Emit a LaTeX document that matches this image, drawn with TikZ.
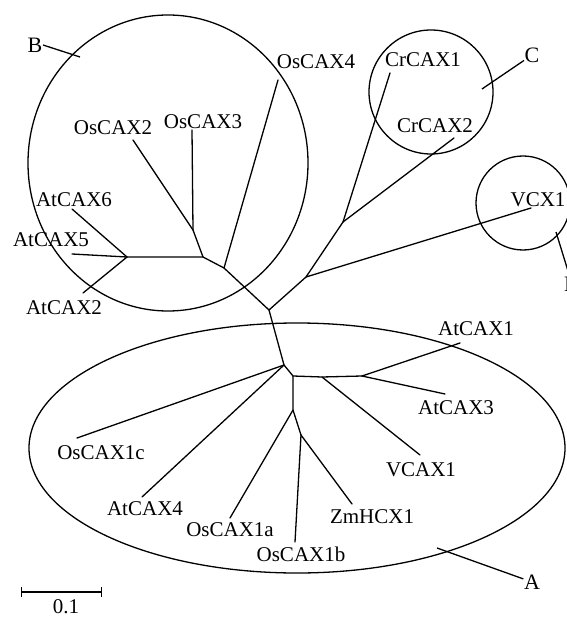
\documentclass[tikz,border=0pt]{standalone}
\usepackage{fontspec}
\setmainfont{Liberation Serif}
\usepackage{tikz}
\usetikzlibrary{positioning}
\tikzset{
  %% -- tree branch --
  TR/branch/.style={draw, line width=1.3pt, line cap=round, line join=round},
  %% -- leaf name --
  TR/leaf/.style={font=\fontsize{21}{24}\selectfont, inner sep=0pt},
  %% -- clade outline (ellipse / circle) --
  TR/clade/.style={draw, line width=1.3pt},
  %% -- clade letter --
  TR/tag/.style={font=\fontsize{22}{24}\selectfont, inner sep=0.5pt},
  %% -- pointer from clade letter into its outline --
  TR/ptr/.style={draw, line width=1.3pt},
  %% -- scale bar --
  TR/bar/.style={draw, line width=1.3pt, |-|},
}

\begin{document}
\begin{tikzpicture}[x=1pt, y=-1pt]
%% ── Frame (pixel grid of the figure, y downwards) ───────────
\useasboundingbox (0,0) rectangle (566,617);

%% ── Inner nodes of the tree ─────────────────────────────────
\coordinate (nRoot) at (269,310);
\coordinate (nB)    at (203,257);
\coordinate (nOs)   at (193,230);
\coordinate (nAt)   at (127,257);
\coordinate (nB4)   at (224,268);
\coordinate (nCV)   at (306,277);
\coordinate (nCr)   at (343,222);
\coordinate (nA1)   at (284,365);
\coordinate (nA2)   at (293,376);
\coordinate (nA3)   at (322,377);
\coordinate (nA4)   at (362,376);
\coordinate (nA5)   at (293,410);
\coordinate (nA6)   at (301,435);

%% ── Leaf tips ───────────────────────────────────────────────
\coordinate (tOsCAX2)  at (133,140);
\coordinate (tOsCAX3)  at (192,130);
\coordinate (tOsCAX4)  at (278,80);
\coordinate (tAtCAX6)  at (72,209);
\coordinate (tAtCAX5)  at (72,254);
\coordinate (tAtCAX2)  at (83,293);
\coordinate (tCrCAX1)  at (390,73);
\coordinate (tCrCAX2)  at (454,138);
\coordinate (tVCX1)    at (531,208);
\coordinate (tAtCAX1)  at (460,343);
\coordinate (tAtCAX3)  at (445,394);
\coordinate (tVCAX1)   at (420,455);
\coordinate (tZmHCX1)  at (352,504);
\coordinate (tOsCAX1b) at (295,542);
\coordinate (tOsCAX1a) at (230,518);
\coordinate (tAtCAX4)  at (142,497);
\coordinate (tOsCAX1c) at (77,438);

%% ── Leaf names ──────────────────────────────────────────────
\node[TR/leaf] (OsCAX2)  at (113,128) {OsCAX2};
\node[TR/leaf] (OsCAX3)  at (203,122) {OsCAX3};
\node[TR/leaf] (OsCAX4)  at (316,62)  {OsCAX4};
\node[TR/leaf] (AtCAX6)  at (74,200)  {AtCAX6};
\node[TR/leaf] (AtCAX5)  at (51,240)  {AtCAX5};
\node[TR/leaf] (AtCAX2)  at (64,308)  {AtCAX2};
\node[TR/leaf] (CrCAX1)  at (423,60)  {CrCAX1};
\node[TR/leaf] (CrCAX2)  at (435,126) {CrCAX2};
\node[TR/leaf] (VCX1)    at (538,200) {VCX1};
\node[TR/leaf] (AtCAX1)  at (476,329) {AtCAX1};
\node[TR/leaf] (AtCAX3)  at (456,408) {AtCAX3};
\node[TR/leaf] (VCAX1)   at (421,470) {VCAX1};
\node[TR/leaf] (ZmHCX1)  at (372,517) {ZmHCX1};
\node[TR/leaf] (OsCAX1b) at (301,554) {OsCAX1b};
\node[TR/leaf] (OsCAX1a) at (230,530) {OsCAX1a};
\node[TR/leaf] (AtCAX4)  at (145,509) {AtCAX4};
\node[TR/leaf] (OsCAX1c) at (101,453) {OsCAX1c};

%% ── Branches ────────────────────────────────────────────────
%% clade B
\draw[TR/branch] (tOsCAX2) -- (nOs) -- (nB);
\draw[TR/branch] (tOsCAX3) -- (nOs);
\draw[TR/branch] (nAt) -- (nB) -- (nB4) -- (nRoot);
\draw[TR/branch] (tOsCAX4) -- (nB4);
\draw[TR/branch] (tAtCAX6) -- (nAt);
\draw[TR/branch] (tAtCAX5) -- (nAt);
\draw[TR/branch] (tAtCAX2) -- (nAt);
%% clades C and D
\draw[TR/branch] (nRoot) -- (nCV) -- (nCr);
\draw[TR/branch] (nCr) -- (tCrCAX1);
\draw[TR/branch] (nCr) -- (tCrCAX2);
\draw[TR/branch] (nCV) -- (tVCX1);
%% clade A
\draw[TR/branch] (nRoot) -- (nA1) -- (nA2) -- (nA3) -- (nA4);
\draw[TR/branch] (nA1) -- (tOsCAX1c);
\draw[TR/branch] (nA1) -- (tAtCAX4);
\draw[TR/branch] (nA3) -- (tVCAX1);
\draw[TR/branch] (nA4) -- (tAtCAX1);
\draw[TR/branch] (nA4) -- (tAtCAX3);
\draw[TR/branch] (nA2) -- (nA5) -- (nA6);
\draw[TR/branch] (nA5) -- (tOsCAX1a);
\draw[TR/branch] (nA6) -- (tZmHCX1);
\draw[TR/branch] (nA6) -- (tOsCAX1b);

%% ── Clade outlines ──────────────────────────────────────────
\draw[TR/clade] (168,163) ellipse [x radius=140pt, y radius=148pt];
\draw[TR/clade] (431,92)  circle [radius=62pt];
\draw[TR/clade] (523,203) circle [radius=47pt];
\draw[TR/clade] (297,448) ellipse [x radius=268pt, y radius=125pt];

%% ── Clade letters and pointers ──────────────────────────────
%% D stands past the right edge, as in the figure
\node[TR/tag] (B) at (35,45)  {B};
\node[TR/tag] (C) at (532,55) {C};
\node[TR/tag] (D) at (572,284) {D};
\node[TR/tag] (A) at (532,582) {A};
\coordinate (pB) at (80,57);
\coordinate (pC) at (482,89);
\coordinate (pD) at (556,232);
\coordinate (pA) at (437,548);
\draw[TR/ptr] (B.east) -- (pB);
\draw[TR/ptr] (C) -- (pC);
\draw[TR/ptr] (D) -- (pD);
\draw[TR/ptr] (A) -- (pA);

%% ── Scale bar ───────────────────────────────────────────────
\coordinate (sL) at (21,592);
\coordinate (sR) at (102,592);
\draw[TR/bar] (sL) -- (sR);
\node[TR/leaf] (scale) at (66,607) {0.1};

\end{tikzpicture}
\end{document}
